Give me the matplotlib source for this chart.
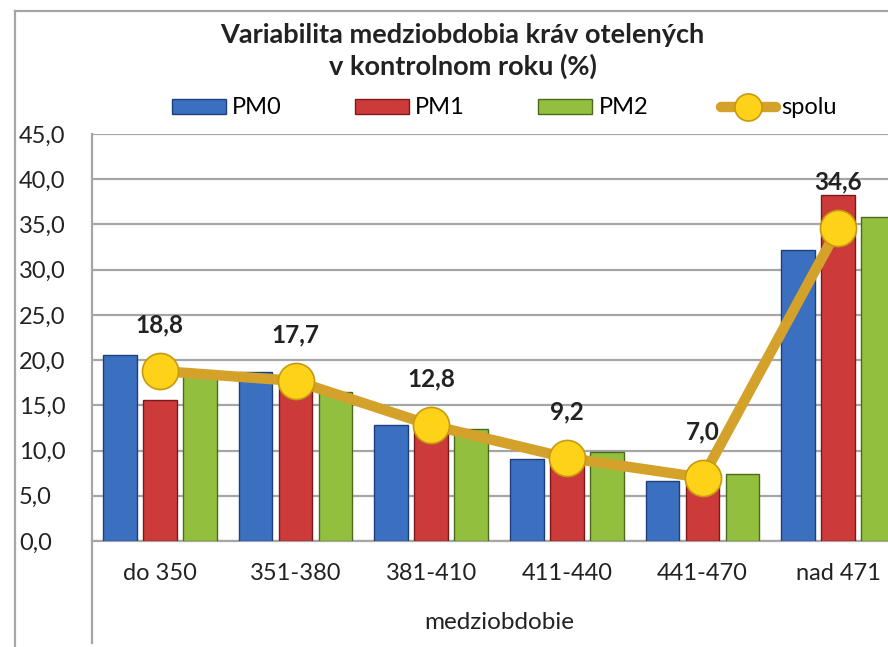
import numpy as np
import matplotlib.pyplot as plt
from matplotlib.lines import Line2D
from matplotlib.ticker import FuncFormatter, MultipleLocator

plt.rcParams['font.family'] = ['Lato', 'DejaVu Sans']

# data
categories = ['do 350', '351-380', '381-410', '411-440', '441-470', 'nad 471']
pm0 = [20.6, 18.7, 12.8, 9.1, 6.6, 32.2]
pm1 = [15.6, 17.5, 12.5, 8.8, 6.6, 38.3]
pm2 = [18.4, 16.5, 12.4, 9.8, 7.4, 35.8]
spolu = [18.8, 17.7, 12.8, 9.2, 7.0, 34.6]

W, H = 888, 647
fig = plt.figure(figsize=(W / 100, H / 100), dpi=100)

# plot area in pixel coordinates (right edge runs past the picture, as in the source)
x0, x1, ytop, ybot = 92, 906, 134, 541
ax = fig.add_axes([x0 / W, (H - ybot) / H, (x1 - x0) / W, (ybot - ytop) / H])

x = np.arange(len(categories))
bw = 0.25
off = 0.295
series = [(pm0, '#3b6fc0', '#1f3f78', 'PM0'),
          (pm1, '#cc3a3a', '#7a1a1a', 'PM1'),
          (pm2, '#93bf3f', '#4d6a1c', 'PM2')]
handles = []
for i, (vals, col, edge, lab) in enumerate(series):
    b = ax.bar(x + (i - 1) * off, vals, bw, color=col, edgecolor=edge,
               linewidth=1.0, label=lab, zorder=3)
    handles.append(b)

line, = ax.plot(x, spolu, color='#d4a12a', lw=7.5, marker='o', ms=26,
                mfc='#ffd21a', mec='#c69a10', mew=1.2, zorder=5,
                solid_capstyle='round', label='spolu')
handles.append(line)

for xi, v in zip(x, spolu):
    ax.annotate(f'{v:.1f}'.replace('.', ','), (xi, v), xytext=(0, 25),
                textcoords='offset points', ha='center', va='bottom',
                fontsize=17.5, fontweight='bold', color='#222222', zorder=6)

ax.set_xlim(-0.5, len(categories) - 0.5)
ax.set_ylim(0, 45)
ax.yaxis.set_major_locator(MultipleLocator(5))
ax.yaxis.set_major_formatter(FuncFormatter(lambda v, p: f'{v:.1f}'.replace('.', ',')))
ax.set_xticks(x)
ax.set_xticklabels(categories)
ax.tick_params(axis='both', length=0, labelsize=17, colors='#222222')
ax.tick_params(axis='x', pad=16)
for lbl in ax.get_yticklabels():
    lbl.set_horizontalalignment('left')
ax.grid(axis='y', color='#a6a6a6', lw=1.6, zorder=0)
for s in ['top', 'right']:
    ax.spines[s].set_visible(False)
ax.spines['bottom'].set_color('#a6a6a6')
ax.spines['bottom'].set_linewidth(1.6)
ax.spines['left'].set_visible(False)
ax.set_xlabel('medziobdobie', fontsize=17.5, color='#222222', labelpad=20)

# y tick labels sit at the left edge of the chart area
ax.yaxis.set_tick_params(pad=(x0 - 19) * 0.72)

# outer chart border and plot area left border
fig.add_artist(Line2D([15 / W, 15 / W], [0, 1 - 11 / H], color='#a6a6a6', lw=1.6))
fig.add_artist(Line2D([15 / W, 1], [1 - 11 / H, 1 - 11 / H], color='#a6a6a6', lw=1.6))
fig.add_artist(Line2D([x0 / W, x0 / W], [4 / H, 1 - ytop / H], color='#a6a6a6', lw=1.6))

fig.text(0.521, 1 - 51 / H, 'Variabilita medziobdobia kráv otelených\nv kontrolnom roku (%)',
         ha='center', va='center', fontsize=19.5, fontweight='bold', color='#222222',
         linespacing=1.3)

fig.legend(handles=handles, loc='center', bbox_to_anchor=(0.568, 1 - 108 / H), ncol=4,
           frameon=False, fontsize=17, handlelength=2.3, handleheight=0.6,
           columnspacing=3.1, handletextpad=0.25, markerscale=0.75)

fig.savefig('out.png', dpi=100)
